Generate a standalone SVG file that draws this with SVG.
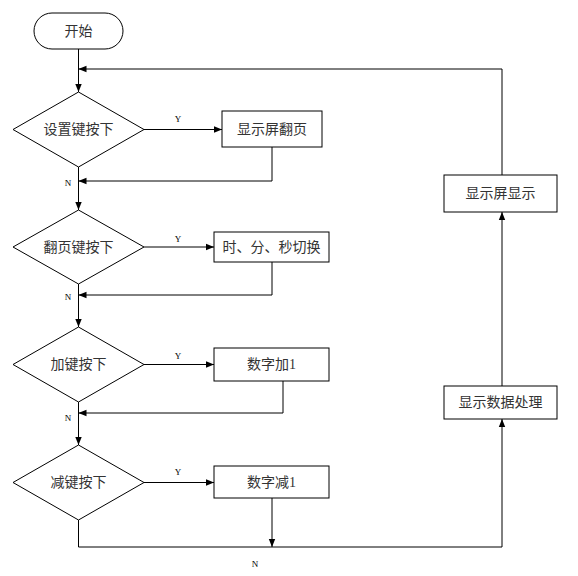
<svg xmlns="http://www.w3.org/2000/svg" width="578" height="576" viewBox="0 0 578 576">
<style>
.shape{fill:#fff;stroke:#000;stroke-width:1}
.line{fill:none;stroke:#000;stroke-width:1}
.t{font-family:"Liberation Serif","Noto Sans CJK SC",serif;font-size:14px;fill:#333;text-anchor:middle;dominant-baseline:central}
.s{font-family:"Liberation Serif",serif;font-size:9px;fill:#000;text-anchor:middle;dominant-baseline:central}
</style>
<defs>
<marker id="ah" viewBox="0 0 8 8" refX="8" refY="4" markerWidth="8" markerHeight="8" markerUnits="userSpaceOnUse" orient="auto">
<path d="M0,0.8 L8,4 L0,7.2 Z" fill="#000"/>
</marker>
</defs>
<rect width="578" height="576" fill="#fff"/>
<g id="connectors">
<path class="line" d="M78.5,49 V92" marker-end="url(#ah)"/>
<path class="line" d="M502,175 V69 H78.5" marker-end="url(#ah)"/>
<path class="line" d="M144,129.5 H222" marker-end="url(#ah)"/>
<path class="line" d="M272,147 V181 H78.5" marker-end="url(#ah)"/>
<path class="line" d="M78.5,167 V210" marker-end="url(#ah)"/>
<path class="line" d="M144,247 H214" marker-end="url(#ah)"/>
<path class="line" d="M272,262 V295 H78.5" marker-end="url(#ah)"/>
<path class="line" d="M78.5,284 V327" marker-end="url(#ah)"/>
<path class="line" d="M144,364.5 H214" marker-end="url(#ah)"/>
<path class="line" d="M283,381 V413 H78.5" marker-end="url(#ah)"/>
<path class="line" d="M78.5,402 V445" marker-end="url(#ah)"/>
<path class="line" d="M144,482.5 H214" marker-end="url(#ah)"/>
<path class="line" d="M272,498 V547" marker-end="url(#ah)"/>
<path class="line" d="M78.5,520 V547 H502 V419" marker-end="url(#ah)"/>
<path class="line" d="M502,386 V212" marker-end="url(#ah)"/>
<text class="s" x="178" y="119">Y</text>
<text class="s" x="178" y="239">Y</text>
<text class="s" x="178" y="356">Y</text>
<text class="s" x="178" y="472">Y</text>
<text class="s" x="68" y="183">N</text>
<text class="s" x="68" y="297">N</text>
<text class="s" x="68" y="418">N</text>
<text class="s" x="255" y="564">N</text>
</g>
<g id="start">
<rect class="shape" x="34" y="13" width="89" height="36" rx="18" ry="18"/>
<text class="t" x="78.5" y="31">开始</text>
</g>
<g id="d1">
<polygon class="shape" points="78.5,92 144,129.5 78.5,167 13,129.5"/>
<text class="t" x="78.5" y="129">设置键按下</text>
</g>
<g id="b1">
<rect class="shape" x="222" y="111" width="100" height="36"/>
<text class="t" x="272" y="129">显示屏翻页</text>
</g>
<g id="d2">
<polygon class="shape" points="78.5,210 144,247 78.5,284 13,247"/>
<text class="t" x="78.5" y="247">翻页键按下</text>
</g>
<g id="b2">
<rect class="shape" x="214" y="232" width="115" height="30"/>
<text class="t" x="271.5" y="247">时、分、秒切换</text>
</g>
<g id="d3">
<polygon class="shape" points="78.5,327 144,364.5 78.5,402 13,364.5"/>
<text class="t" x="78.5" y="364">加键按下</text>
</g>
<g id="b3">
<rect class="shape" x="214" y="348" width="115" height="33"/>
<text class="t" x="271.5" y="364">数字加1</text>
</g>
<g id="d4">
<polygon class="shape" points="78.5,445 144,482.5 78.5,520 13,482.5"/>
<text class="t" x="78.5" y="482">减键按下</text>
</g>
<g id="b4">
<rect class="shape" x="214" y="466" width="115" height="32"/>
<text class="t" x="271.5" y="482">数字减1</text>
</g>
<g id="b5">
<rect class="shape" x="444" y="175" width="113" height="37"/>
<text class="t" x="500.5" y="193.5">显示屏显示</text>
</g>
<g id="b6">
<rect class="shape" x="444" y="386" width="113" height="33"/>
<text class="t" x="500.5" y="402.5">显示数据处理</text>
</g>
</svg>
